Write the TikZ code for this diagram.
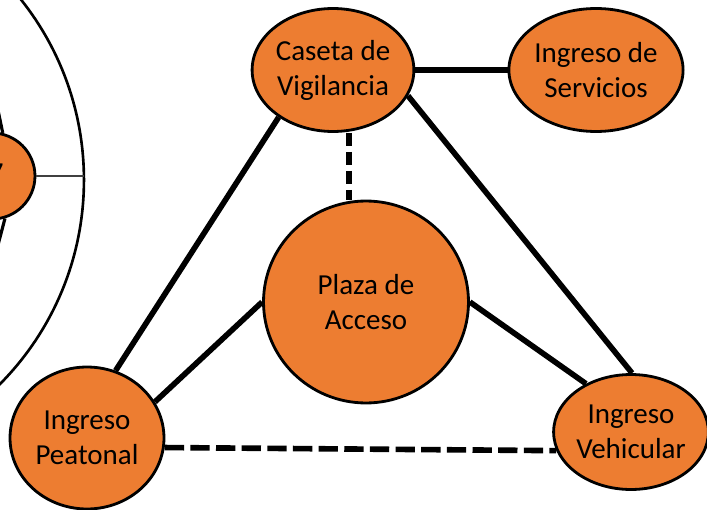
\documentclass[tikz,border=0pt]{standalone}
\usepackage{fontspec}
\setmainfont{Carlito}
\usepackage{xcolor}
\usetikzlibrary{positioning, shapes.geometric}
\definecolor{zonaorange}{RGB}{237,125,49}

\begin{document}
\begin{tikzpicture}[x=0.02cm, y=-0.02cm,
    zona/.style={ellipse, draw=black, line width=1.6pt, fill=zonaorange,
        inner sep=0pt, align=center, font=\fontsize{16.5}{20}\selectfont},
    nexo/.style={line width=3.2pt},
    nexodash/.style={line width=3.2pt, dash pattern=on 11pt off 3.6pt}]
    \fill[white] (0,0) rectangle (707,510);
    \clip (0,0) rectangle (707,510);

    % ring on the left, cut by the page edge
    \draw[line width=1.5pt] (-206,180) circle [radius=5.8cm];
    \coordinate (ringeast) at (84,176);
    \coordinate (fueraA) at (-25,0);
    \coordinate (fueraB) at (-35,370);

    \node[zona, minimum width=1.72cm, minimum height=1.72cm] (oculto) at (-8,176) {};
    \node[font=\fontsize{16.5}{20}\selectfont, anchor=base east, inner sep=0pt] (cifra) at (4,183) {7};

    \node[zona, minimum width=2.72cm, minimum height=2.46cm] (caseta) at (333,70) {Caseta de\\Vigilancia};
    \node[zona, minimum width=2.72cm, minimum height=2.46cm] (servicios) at (596,70) {Ingreso de\\Servicios};
    \node[zona, minimum width=4.1cm, minimum height=4.04cm] (plaza) at (366,302) {Plaza de\\Acceso};
    \node[zona, minimum width=3.08cm, minimum height=2.84cm] (peatonal) at (87,438) {Ingreso\\Peatonal};
    \node[zona, minimum width=2.64cm, minimum height=2.3cm] (vehicular) at (631,432) {Ingreso\\Vehicular};

    % links
    \draw[line width=0.9pt, black!75] (oculto.east) -- (ringeast);
    \draw[line width=1.8pt] (oculto.76) -- (fueraA);
    \draw[line width=1.8pt] (oculto.-73) -- (fueraB);

    \draw[nexo] (caseta) -- (servicios);
    \draw[nexo] (caseta.221) -- (peatonal.67);
    \draw[nexo] (caseta.-19) -- (vehicular.89);
    \draw[nexo] (plaza.west) -- (peatonal.28);
    \draw[nexo] (plaza.east) -- (vehicular.133);

    \path ([xshift=0.32cm]caseta.south) coordinate (vigpie);
    \draw[nexodash, dash pattern=on 7.4pt off 3.4pt] (vigpie) -- (vigpie |- plaza.north);
    \draw[nexodash] (peatonal.-7) -- (vehicular.194);
\end{tikzpicture}
\end{document}
